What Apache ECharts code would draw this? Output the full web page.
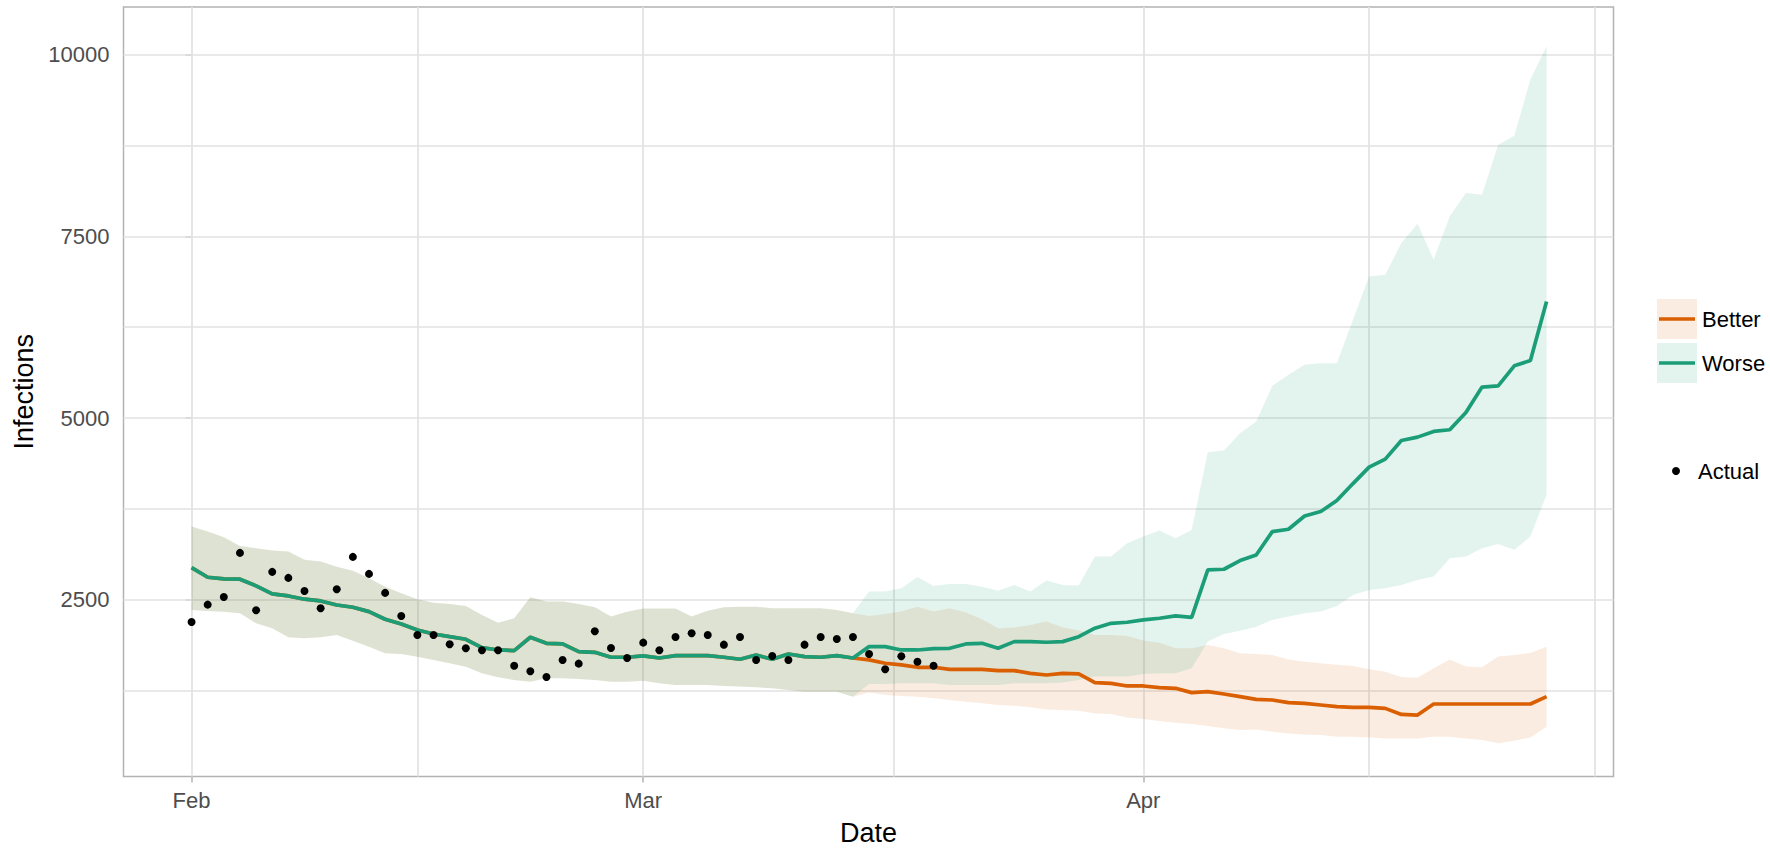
<!DOCTYPE html>
<html>
<head>
<meta charset="utf-8">
<title>Infections</title>
<script src="https://cdn.jsdelivr.net/npm/echarts@6/dist/echarts.min.js"></script>
<style>
  html, body { margin: 0; padding: 0; background: #fff; }
  #chart { width: 1770px; height: 852px; }
</style>
</head>
<body>
<div id="chart"></div>
<script>
// x = days since the first observation (Feb 1), one value per day
const xTickDays = [0, 28, 59]
const xTickLabels = ['Feb', 'Mar', 'Apr']
const xGridDays = [0, 14, 28, 43.5, 59, 73, 87]
const yTickValues = [2500, 5000, 7500, 10000]
const yGridValues = [1250, 2500, 3750, 5000, 6250, 7500, 8750, 10000]

// observed infections (day 0 - 46)
const actual = [2197, 2436, 2541, 3147, 2358, 2886, 2803, 2624, 2386, 2647,
  3092, 2858, 2597, 2280, 2019, 2019, 1891, 1836, 1808, 1808,
  1596, 1519, 1441, 1675, 1624, 2069, 1840, 1702, 1913, 1808,
  1991, 2042, 2019, 1885, 1991, 1675, 1730, 1675, 1885, 1991,
  1964, 1991, 1757, 1547, 1726, 1651, 1596]

// fitted part shared by both scenarios (day 0 - 41)
const fitMid = [2945, 2812, 2789, 2785, 2693, 2583, 2555, 2510, 2486, 2431,
  2400, 2339, 2235, 2170, 2087, 2032, 1995, 1959, 1844, 1812,
  1803, 1987, 1904, 1895, 1789, 1780, 1712, 1712, 1730, 1702,
  1734, 1734, 1734, 1712, 1684, 1743, 1684, 1757, 1720, 1712,
  1734, 1702]
const fitLo = [2363, 2349, 2339, 2317, 2179, 2111, 1987, 1973, 1987, 2019,
  1940, 1858, 1767, 1757, 1720, 1675, 1629, 1582, 1492, 1436,
  1399, 1376, 1423, 1423, 1414, 1399, 1376, 1376, 1390, 1354,
  1331, 1331, 1331, 1317, 1308, 1298, 1285, 1262, 1239, 1239,
  1239, 1170]
const fitHi = [3509, 3440, 3363, 3243, 3211, 3179, 3165, 3051, 3027, 2958,
  2903, 2799, 2683, 2592, 2510, 2463, 2445, 2418, 2294, 2188,
  2248, 2537, 2477, 2477, 2445, 2400, 2271, 2339, 2381, 2381,
  2381, 2271, 2353, 2400, 2408, 2408, 2386, 2386, 2386, 2386,
  2363, 2317]

// scenario forecasts (day 42 - 84)
const betterMid = [1675, 1629, 1606, 1574, 1574, 1546, 1546, 1546, 1528, 1528,
  1491, 1468, 1491, 1482, 1362, 1353, 1317, 1317, 1294, 1285,
  1225, 1240, 1207, 1170, 1133, 1124, 1087, 1078, 1055, 1032,
  1023, 1023, 1009, 926, 917, 1069, 1069, 1069, 1069, 1069,
  1069, 1069, 1170]
const betterLo = [1226, 1192, 1179, 1170, 1147, 1124, 1101, 1078, 1055, 1046,
  1023, 995, 986, 977, 940, 931, 885, 862, 835, 812,
  794, 766, 734, 711, 720, 688, 665, 651, 642, 619,
  619, 610, 596, 596, 596, 619, 619, 596, 573, 528,
  564, 610, 757]
const betterHi = [2280, 2308, 2340, 2408, 2340, 2386, 2326, 2234, 2111, 2120,
  2157, 2202, 2124, 2079, 2019, 2019, 2005, 1941, 1913, 1835,
  1835, 1881, 1835, 1766, 1757, 1743, 1680, 1650, 1630, 1610,
  1590, 1546, 1514, 1440, 1430, 1560, 1680, 1583, 1575, 1721,
  1743, 1770, 1858]
const worseMid = [1858, 1858, 1812, 1812, 1830, 1835, 1895, 1904, 1835, 1927,
  1927, 1918, 1927, 1995, 2111, 2179, 2193, 2225, 2248, 2280,
  2261, 2913, 2922, 3041, 3119, 3440, 3472, 3655, 3715, 3867,
  4100, 4326, 4436, 4693, 4739, 4817, 4840, 5078, 5427, 5445,
  5720, 5793, 6605]
const worseLo = [1345, 1345, 1354, 1354, 1354, 1331, 1331, 1331, 1331, 1354,
  1354, 1354, 1363, 1400, 1446, 1446, 1446, 1482, 1491, 1491,
  1560, 1927, 2032, 2078, 2133, 2225, 2271, 2317, 2340, 2418,
  2569, 2638, 2661, 2707, 2775, 2821, 3074, 3097, 3212, 3271,
  3189, 3372, 3950]
const worseHi = [2615, 2615, 2660, 2816, 2692, 2720, 2720, 2683, 2628, 2706,
  2615, 2766, 2706, 2697, 3096, 3096, 3280, 3372, 3454, 3349,
  3463, 4530, 4555, 4793, 4954, 5445, 5596, 5734, 5756, 5756,
  6353, 6949, 6972, 7408, 7674, 7178, 7775, 8096, 8073, 8761,
  8885, 9656, 10115]

const BETTER = '#d95f02'
const WORSE = '#1b9e77'
const FONT = '"Liberation Sans", Arial, sans-serif'
const FILL_ALPHA = 0.12
const LINE_W = 3.7

const pairs = arr => arr.map((v, i) => [i, v])

const bMid = fitMid.concat(betterMid)
const bLo = fitLo.concat(betterLo)
const bHi = fitHi.concat(betterHi)
const wMid = fitMid.concat(worseMid)
const wLo = fitLo.concat(worseLo)
const wHi = fitHi.concat(worseHi)

// ribbon between lo and hi, drawn as one polygon through the axis scales
function band(name, lo, hi, color) {
  return {
    name: name,
    type: 'custom',
    silent: true,
    clip: true,
    data: lo.map((v, i) => [i, v, hi[i]]),
    encode: { x: 0, y: [1, 2] },
    renderItem: function (params, api) {
      if (params.dataIndex !== 0) return null
      const upper = hi.map((v, i) => api.coord([i, v]))
      const lower = lo.map((v, i) => api.coord([i, v])).reverse()
      return {
        type: 'polygon',
        shape: { points: upper.concat(lower) },
        style: { fill: color, opacity: FILL_ALPHA }
      }
    }
  }
}

const chart = echarts.init(document.getElementById('chart'), null, { renderer: 'svg' })

const gridLines = xGridDays.map(d => ({ xAxis: d }))
  .concat(yGridValues.map(v => ({ yAxis: v })))

const series = [
  {
    name: 'grid',
    type: 'line',
    data: [],
    silent: true,
    markLine: {
      z: 1,
      silent: true,
      symbol: 'none',
      label: { show: false },
      lineStyle: { color: '#e2e2e2', width: 1.7, type: 'solid' },
      data: gridLines
    }
  },
  band('Better', bLo, bHi, BETTER),
  band('Worse', wLo, wHi, WORSE),
  {
    name: 'Better',
    type: 'line',
    data: pairs(bMid),
    symbol: 'none',
    lineStyle: { color: BETTER, width: LINE_W },
    itemStyle: { color: BETTER }
  },
  {
    name: 'Worse',
    type: 'line',
    data: pairs(wMid),
    symbol: 'none',
    lineStyle: { color: WORSE, width: LINE_W },
    itemStyle: { color: WORSE }
  },
  {
    name: 'Actual',
    type: 'scatter',
    data: pairs(actual),
    symbol: 'circle',
    symbolSize: 8,
    itemStyle: { color: '#000', opacity: 1 },
    z: 5
  }
]

chart.setOption({
  animation: false,
  backgroundColor: '#fff',
  textStyle: { fontFamily: FONT },
  grid: {
    left: 123.5,
    right: 156.5,
    top: 7,
    bottom: 75.5,
    show: true,
    backgroundColor: '#fff',
    borderColor: '#b3b3b3',
    borderWidth: 1.5
  },
  xAxis: {
    type: 'value',
    min: -4.22,
    max: 88.15,
    name: 'Date',
    nameLocation: 'middle',
    nameGap: 43,
    nameTextStyle: { fontSize: 27, color: '#000', fontFamily: FONT },
    axisLine: { show: false },
    axisTick: {
      show: true,
      length: 6,
      customValues: xTickDays,
      lineStyle: { color: '#b3b3b3', width: 1.5 }
    },
    axisLabel: {
      customValues: xTickDays,
      margin: 13,
      fontSize: 22,
      color: '#4d4d4d',
      fontFamily: FONT,
      formatter: v => xTickLabels[xTickDays.indexOf(v)] || ''
    },
    splitLine: { show: false }
  },
  yAxis: {
    type: 'value',
    min: 72,
    max: 10654,
    name: 'Infections',
    nameLocation: 'middle',
    nameRotate: 90,
    nameGap: 82,
    nameTextStyle: { fontSize: 27, color: '#000', fontFamily: FONT },
    axisLine: { show: false },
    axisTick: {
      show: true,
      length: 6,
      customValues: yTickValues,
      lineStyle: { color: '#b3b3b3', width: 1.5 }
    },
    axisLabel: {
      customValues: yTickValues,
      margin: 14,
      fontSize: 22,
      color: '#4d4d4d',
      fontFamily: FONT,
      formatter: v => String(v)
    },
    splitLine: { show: false }
  },
  legend: [{
    orient: 'vertical',
    left: 1657,
    top: 299,
    padding: 0,
    itemWidth: 40,
    itemHeight: 40,
    itemGap: 4,
    icon: 'rect',
    selectedMode: false,
    textStyle: { fontSize: 22, color: '#000', fontFamily: FONT },
    data: [
      { name: 'Better', itemStyle: { color: BETTER, opacity: FILL_ALPHA } },
      { name: 'Worse', itemStyle: { color: WORSE, opacity: FILL_ALPHA } }
    ]
  }, {
    orient: 'vertical',
    left: 1672,
    top: 460,
    padding: 0,
    itemWidth: 8,
    itemHeight: 8,
    icon: 'circle',
    selectedMode: false,
    textStyle: { fontSize: 22, color: '#000', fontFamily: FONT, padding: [0, 0, 0, 13] },
    data: [{ name: 'Actual', itemStyle: { color: '#000', opacity: 1 } }]
  }],
  // the line drawn across each ribbon key
  graphic: [
    { type: 'line', z: 100, shape: { x1: 1659, y1: 319, x2: 1695, y2: 319 }, style: { stroke: BETTER, lineWidth: LINE_W } },
    { type: 'line', z: 100, shape: { x1: 1659, y1: 363, x2: 1695, y2: 363 }, style: { stroke: WORSE, lineWidth: LINE_W } }
  ],
  series: series
})
</script>
</body>
</html>
